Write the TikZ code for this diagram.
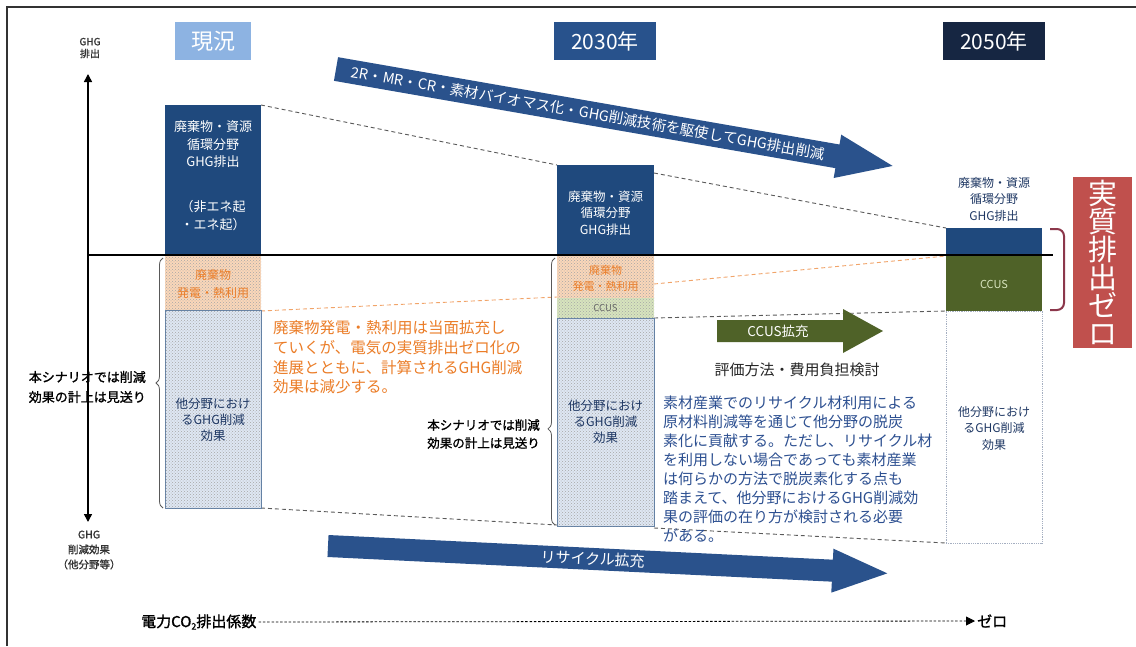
\documentclass[tikz,border=0pt]{standalone}
\usepackage{fontspec}
\setmainfont{Noto Sans CJK JP}
\newfontfamily\bcjk[FakeBold=1.2]{Noto Sans CJK JP}
\usetikzlibrary{patterns,decorations.pathreplacing,arrows.meta,calc}
\newcommand\fz[2]{\fontsize{#1}{#2}\selectfont}
\definecolor{cCol}{RGB}{31,73,125}
\definecolor{cH0}{RGB}{141,179,226}
\definecolor{cH1}{RGB}{40,82,140}
\definecolor{cH2}{RGB}{22,38,66}
\definecolor{cArr}{RGB}{42,82,140}
\definecolor{cGreen}{RGB}{79,98,40}
\definecolor{cRed}{RGB}{192,80,77}
\definecolor{cOrT}{RGB}{235,125,40}
\definecolor{cOrF}{RGB}{250,215,185}
\definecolor{cGrF}{RGB}{215,228,189}
\definecolor{cBlF}{RGB}{222,231,243}
\definecolor{cPara}{RGB}{45,80,145}
\definecolor{cDark}{RGB}{31,56,100}
\definecolor{cBrk}{RGB}{140,55,75}
\definecolor{cDash}{RGB}{90,90,90}
\tikzset{
  box/.style={rectangle, inner sep=0pt, outer sep=0pt},
  hdr/.style={box, text=white, minimum height=38, font=\fz{21}{24}},
  dotbox/.style={box, fill=#1, postaction={pattern=crosshatch dots, pattern color=black!35}},
  lbl/.style={align=center, inner sep=0pt},
  dline/.style={dashed, dash pattern=on 4pt off 3pt, line width=0.9pt},
  brc/.style={decorate, decoration={brace, amplitude=7pt}, line width=0.8pt, draw=black!65},
}
\begin{document}
\begin{tikzpicture}[x=1pt,y=-1pt]
\useasboundingbox (0,0) rectangle (1136,646);
\fill[white] (0,0) rectangle (1136,646);
% frame
\draw[line width=1.5pt, black!80] (7,646) -- (7,7) -- (1136,7);

% headers
\node[hdr, fill=cH0, minimum width=76, font=\fz{22}{24}] (h0) at (213,41) {現況};
\node[hdr, fill=cH1, minimum width=102] (h1) at (605,41) {2030年};
\node[hdr, fill=cH2, minimum width=102] (h2) at (994,41) {2050年};

% dashed guide lines (behind columns)
\draw[dline, cDash] (261,105) -- (557,165);
\draw[dline, cDash] (654,173) -- (946,228);
\draw[dline, cOrT!70] (261,311) -- (557,297);
\draw[dline, cOrT!70] (654,284) -- (946,256);
\draw[dline, cDash] (654,318) -- (946,311);
\draw[dline, cDash] (261,508) -- (557,525);
\draw[dline, cDash] (654,528) -- (946,543);

% column 0 (現況)
\node[box, fill=cCol, minimum width=96, minimum height=150] (c0e) at (213,180) {};
\node[dotbox=cOrF, minimum width=96, minimum height=55] (c0o) at (213,282.5) {};
\node[dotbox=cBlF, draw=cCol!70, line width=0.6pt, minimum width=96, minimum height=198] (c0g) at (213,409) {};
\node[lbl, text=white, font=\fz{13}{17.5}] (t0a) at (213,144.5) {廃棄物・資源\\循環分野\\GHG排出};
\node[lbl, text=white, font=\fz{13}{17.5}] (t0b) at (213,215.5) {（非エネ起\\・エネ起）};
\node[lbl, text=cOrT, font=\fz{12}{18}] (t0o) at (213,284) {廃棄物\\発電・熱利用};
\node[lbl, text=cDark, font=\fz{12.5}{16}] (t0g) at (213,420) {他分野におけ\\るGHG削減\\効果};
\draw[brc] (163,508) -- (163,258);
\node[lbl, anchor=east, align=right, font=\bcjk\fz{13}{20}] (s0) at (146,387) {本シナリオでは削減\\効果の計上は見送り};

% column 1 (2030)
\node[box, fill=cCol, minimum width=97, minimum height=90] (c1e) at (605.5,210) {};
\node[dotbox=cOrF, minimum width=97, minimum height=43] (c1o) at (605.5,276.5) {};
\node[dotbox=cGrF, minimum width=97, minimum height=20] (c1c) at (605.5,308) {};
\node[dotbox=cBlF, draw=cCol!70, line width=0.6pt, minimum width=97, minimum height=208] (c1g) at (605.5,422) {};
\node[lbl, text=white, font=\fz{12.5}{16.5}] (t1e) at (605.5,213) {廃棄物・資源\\循環分野\\GHG排出};
\node[lbl, text=cOrT, font=\fz{11}{16}] (t1o) at (605.5,278) {廃棄物\\発電・熱利用};
\node[lbl, text=black!60, font=\fz{9.5}{10}] (t1c) at (605.5,308.5) {CCUS};
\node[lbl, text=cDark, font=\fz{12.5}{16}] (t1g) at (605.5,422) {他分野におけ\\るGHG削減\\効果};
\draw[brc, decoration={brace, amplitude=7pt, aspect=0.36}] (555,525) -- (555,258);
\node[lbl, anchor=east, align=right, font=\bcjk\fz{12.5}{18}] (s1) at (540,434) {本シナリオでは削減\\効果の計上は見送り};

% column 2 (2050)
\node[box, fill=cCol, minimum width=96, minimum height=27] (c2e) at (994,241.5) {};
\node[box, fill=cGreen, minimum width=96, minimum height=56] (c2c) at (994,283) {};
\node[box, draw=cDark!40, densely dotted, line width=0.8pt, minimum width=96, minimum height=232] (c2g) at (994,427) {};
\node[lbl, text=cGrF, font=\fz{11}{12}] (t2c) at (994,284) {CCUS};
\node[lbl, text=cDark, font=\fz{12}{16.5}] (t2g) at (994,428) {他分野におけ\\るGHG削減\\効果};
\node[lbl, text=cDark, font=\fz{12}{16.5}] (t2e) at (994,199) {廃棄物・資源\\循環分野\\GHG排出};
\draw[cBrk, line width=2pt, rounded corners=7pt] (1050,229) -- (1064,229) -- (1064,310) -- (1050,310);
\node[box, fill=cRed, minimum width=59, minimum height=171, text=white, align=center, font=\fz{29}{28}] (zero) at (1102.5,262.5) {実\\質\\排\\出\\ゼ\\ロ};

% axes
\coordinate (axt) at (88,74);
\coordinate (axb) at (88,522);
\coordinate (axl) at (88,255);
\coordinate (axr) at (1053,255);
\draw[line width=1.5pt, {Triangle[length=8pt,width=8pt]}-{Triangle[length=8pt,width=8pt]}] (axt) -- (axb);
\draw[line width=1.5pt] (axl) -- (axr);
\node[lbl, text=black!80, font=\bcjk\fz{10}{12}] (ya) at (90,48) {GHG\\排出};
\node[lbl, text=black!80, font=\bcjk\fz{10.5}{15}] (yb) at (89,550) {GHG\\削減効果\\（他分野等）};

% big arrow 1
\begin{scope}[shift={(336,69)}, rotate=-9.88]
\fill[cArr] (0,-12) -- (509,-12) -- (509,-22) -- (565,0) -- (509,22) -- (509,12) -- (0,12) -- cycle;
\node[transform shape, text=white, font=\fz{14.5}{16}, inner sep=0pt] (a1) at (256,0) {2R・MR・CR・素材バイオマス化・GHG削減技術を駆使してGHG排出削減};
\end{scope}

% big arrow 2
\begin{scope}[shift={(328,546)}, rotate=-2.8]
\fill[cArr] (0,-11) -- (505,-11) -- (505,-22) -- (560,0) -- (505,22) -- (505,11) -- (0,11) -- cycle;
\node[transform shape, text=white, font=\fz{15}{16}, inner sep=0pt] (a2) at (265,0) {リサイクル拡充};
\end{scope}

% CCUS arrow
\fill[cGreen] (717,320) -- (843,320) -- (843,309) -- (883,331) -- (843,353) -- (843,342) -- (717,342) -- cycle;
\node[lbl, text=white, font=\fz{13.5}{15}] (a3) at (778,331) {CCUS拡充};
\node[lbl, text=black!85, font=\fz{15}{17}] (ev) at (797,370) {評価方法・費用負担検討};

% paragraphs
\node[lbl, anchor=west, align=left, text=cOrT, font=\fz{15.5}{19.7}] (p1) at (273,357.5) {廃棄物発電・熱利用は当面拡充し\\ていくが、電気の実質排出ゼロ化の\\進展とともに、計算されるGHG削減\\効果は減少する。};
\node[lbl, anchor=west, align=left, text=cPara, font=\fz{15}{18.9}] (p2) at (663,469) {素材産業でのリサイクル材利用による\\原材料削減等を通じて他分野の脱炭\\素化に貢献する。ただし、リサイクル材\\を利用しない場合であっても素材産業\\は何らかの方法で脱炭素化する点も\\踏まえて、他分野におけるGHG削減効\\果の評価の在り方が検討される必要\\がある。};

% bottom CO2 line
\node[anchor=west, inner sep=2pt, font=\bcjk\fz{15}{17}] (ef) at (139,622) {電力CO{\fz{9}{9}\raisebox{-2.5pt}{2}}排出係数};
\node[anchor=west, inner sep=2pt, font=\bcjk\fz{15}{17}] (ze) at (975,621) {ゼロ};
\draw[dash pattern=on 2.5pt off 1.8pt, line width=0.8pt, -{Triangle[length=9pt,width=9pt]}] (ef.east) -- (ze.west);
\end{tikzpicture}
\end{document}
